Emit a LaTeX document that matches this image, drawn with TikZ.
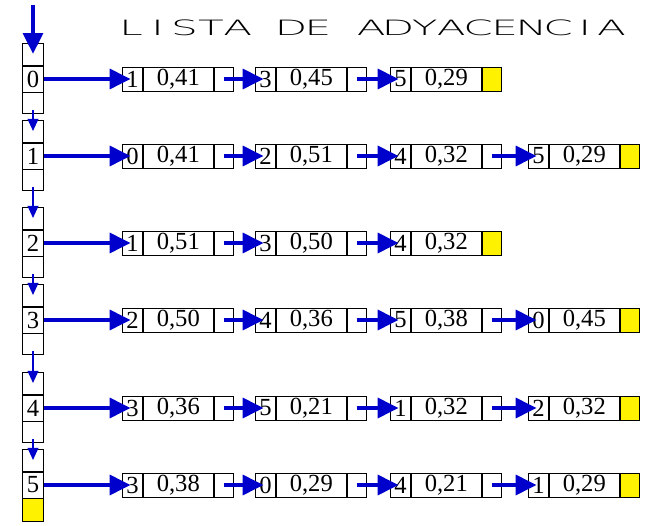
\documentclass[tikz,border=0pt]{standalone}
\usepackage{fontspec}
\setmainfont{Liberation Serif}
\newfontfamily\titlefont{DejaVu Sans ExtraLight}
\usepackage{tikz}
\usetikzlibrary{positioning,arrows.meta}

\begin{document}
\begin{tikzpicture}[x=0.02cm,y=-0.02cm,font=\fontsize{14}{16}\selectfont,
  cell/.style={draw,line width=0.5pt,inner sep=0pt,minimum height=0.48cm},
  headcell/.style={draw,line width=0.5pt,inner sep=0pt,minimum width=0.42cm},
  bigarrow/.style={draw=blue!80!black,line width=2.8pt,-{Triangle[length=12pt,width=11pt]}},
  thinarrow/.style={draw=blue!80!black,line width=1.3pt,-{Triangle[length=7pt,width=6pt]}}]
\useasboundingbox (0,0) rectangle (672,526);
% title
\foreach \ch [count=\k from 0] in {L,I,S,T,A,{},D,E,{},A,D,Y,A,C,E,N,C,I,A}
  \node[font=\titlefont\fontsize{12}{12}\selectfont,xscale=2] (t\k) at (131+26.7*\k,28) {\ch};

% adjacency lists: row / length / entries
\foreach \r/\y/\n/\data in {
  0/79/3/{1/{0,41},3/{0,45},5/{0,29}},
  1/156/4/{0/{0,41},2/{0,51},4/{0,32},5/{0,29}},
  2/243/3/{1/{0,51},3/{0,50},4/{0,32}},
  3/320/4/{2/{0,50},4/{0,36},5/{0,38},0/{0,45}},
  4/408/4/{3/{0,36},5/{0,21},1/{0,32},2/{0,32}},
  5/485/4/{3/{0,38},0/{0,29},4/{0,21},1/{0,29}}} {
  % head column
  \node[headcell,minimum height=0.52cm] (hm\r) at (33,\y) {\r};
  \node[headcell,minimum height=0.44cm,above=0pt of hm\r] (ht\r) {};
  \ifnum\r=5
    \node[headcell,minimum height=0.46cm,below=0pt of hm\r,fill=yellow] (hb\r) {};
  \else
    \node[headcell,minimum height=0.42cm,below=0pt of hm\r] (hb\r) {};
  \fi
  \foreach \i/\v [count=\c] in \data {
    \pgfmathsetmacro{\x}{{122,255,390,528}[\c-1]}
    \ifnum\c=\n\def\pfill{yellow}\else\def\pfill{white}\fi
    \node[cell,minimum width=0.4cm,anchor=west] (n\r-\c-i) at (\x,\y) {\i};
    \node[cell,minimum width=1.4cm,right=0pt of n\r-\c-i] (n\r-\c-v) {\v};
    \node[cell,minimum width=0.38cm,right=0pt of n\r-\c-v,fill=\pfill] (n\r-\c-p) {};
    \ifnum\c>1
      \pgfmathtruncatemacro{\prev}{\c-1}
      \draw[bigarrow,shorten >=-5pt] (n\r-\prev-p.center) -- (n\r-\c-i.west);
    \fi
  }
  \draw[bigarrow,shorten >=-5pt] (hm\r.east) -- (n\r-1-i.west);
}
% links down the head column
\coordinate (start) at (33,5);
\draw[bigarrow] (start) -- (ht0.center);
\foreach \r [count=\s] in {0,...,4}
  \draw[thinarrow,shorten <=4pt] (hb\r.center) -- (ht\s.center);
\end{tikzpicture}
\end{document}
